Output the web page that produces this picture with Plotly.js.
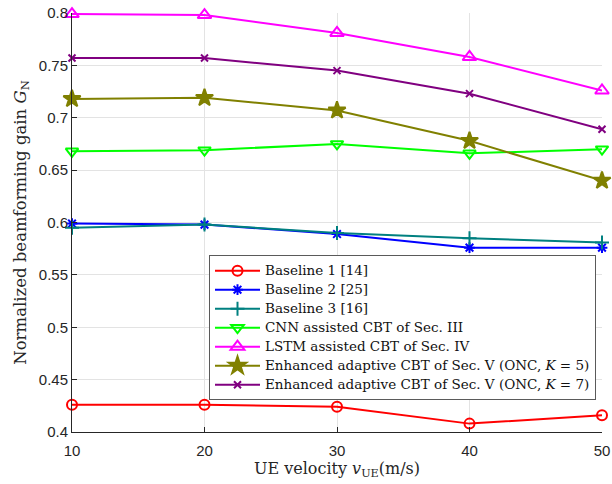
<!DOCTYPE html>
<html>
<head>
<meta charset="utf-8">
<script src="https://cdn.plot.ly/plotly-3.0.1.min.js"></script>
<style>
html,body{margin:0;padding:0;background:#fff;}
#chart{width:612px;height:484px;}
.legendtext{font-size:13.5px !important;}
</style>
</head>
<body>
<div id="chart"></div>
<script>
const velocity = [10, 20, 30, 40, 50];
const baseline1 = [0.426, 0.426, 0.424, 0.408, 0.416];
const baseline2 = [0.599, 0.598, 0.589, 0.576, 0.576];
const baseline3 = [0.595, 0.598, 0.590, 0.585, 0.581];
const cnnCBT = [0.668, 0.669, 0.675, 0.666, 0.670];
const lstmCBT = [0.799, 0.798, 0.781, 0.758, 0.726];
const adaptiveK5 = [0.718, 0.719, 0.707, 0.678, 0.640];
const adaptiveK7 = [0.757, 0.757, 0.745, 0.723, 0.689];

const seriesNames = [
  'Baseline 1 [14]',
  'Baseline 2 [25]',
  'Baseline 3 [16]',
  'CNN assisted CBT of Sec. III',
  'LSTM assisted CBT of Sec. IV',
  'Enhanced adaptive CBT of Sec. V (ONC, <i>K</i> = 5)',
  'Enhanced adaptive CBT of Sec. V (ONC, <i>K</i> = 7)'
];
const seriesData = [baseline1, baseline2, baseline3, cnnCBT, lstmCBT, adaptiveK5, adaptiveK7];
const colors = ['#ff0000', '#0000ff', '#008080', '#00ff00', '#ff00ff', '#808000', '#800080'];
const symbols = ['circle-open', 'asterisk-open', 'cross-thin-open', 'triangle-down-open', 'triangle-up-open', 'star', 'x-thin-open'];
const sizes = [10, 9, 10, 11, 12, 13, 7];

const traces = seriesData.map((d, i) => ({
  x: velocity, y: d, name: seriesNames[i], type: 'scatter', mode: 'lines+markers',
  cliponaxis: false,
  line: {color: colors[i], width: 2},
  marker: {symbol: symbols[i], size: sizes[i], color: colors[i], line: {color: colors[i], width: 2}}
}));

const serif = 'DejaVu Serif, serif';
const layout = {
  width: 612, height: 484,
  margin: {l: 72, r: 10, t: 13, b: 52, autoexpand: false},
  paper_bgcolor: '#fff', plot_bgcolor: '#fff',
  showlegend: true,
  xaxis: {
    range: [10, 50], tickvals: [10, 20, 30, 40, 50], ticktext: ['10','20','30','40','50'],
    showgrid: true, gridcolor: '#e3e3e3', gridwidth: 1,
    showline: true, linecolor: '#262626', linewidth: 1,
    ticks: 'inside', ticklen: 5, tickcolor: '#262626',
    ticklabelstandoff: 5,
    zeroline: false,
    tickfont: {family: 'Liberation Sans, Arial, sans-serif', size: 15, color: '#262626'},
    title: {text: 'UE velocity <i>v</i><sub>UE</sub>(m/s)', font: {family: serif, size: 16, color: '#262626'}, standoff: 4}
  },
  yaxis: {
    range: [0.4, 0.8], dtick: 0.05, tick0: 0.4,
    showgrid: true, gridcolor: '#e3e3e3', gridwidth: 1,
    showline: true, linecolor: '#262626', linewidth: 1,
    ticks: 'inside', ticklen: 5, tickcolor: '#262626',
    zeroline: false,
    tickfont: {family: 'Liberation Sans, Arial, sans-serif', size: 15, color: '#262626'},
    title: {text: 'Normalized beamforming gain <i>G</i><sub>N</sub>', font: {family: serif, size: 16.5, color: '#262626'}, standoff: 8}
  },
  legend: {
    x: 0.2585, y: 0.422, xanchor: 'left', yanchor: 'top',
    bgcolor: '#ffffff', bordercolor: '#5a5a5a', borderwidth: 1,
    font: {family: serif, size: 12, color: '#111'},
    tracegroupgap: 0, itemwidth: 45
  }
};

Plotly.newPlot('chart', traces, layout, {displayModeBar: false, staticPlot: true});
</script>
</body>
</html>
